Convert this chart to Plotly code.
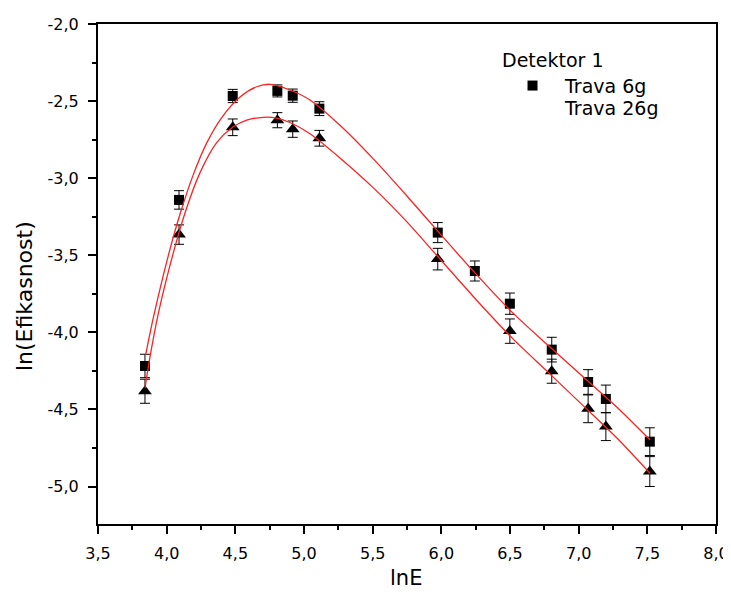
import plotly.graph_objects as go

# ---- data ----
lnE_6g = [3.842, 4.090, 4.481, 4.806, 4.918, 5.112, 5.974, 6.244, 6.499, 6.804, 7.069, 7.198, 7.518]
eff_6g = [-4.218, -3.141, -2.467, -2.434, -2.465, -2.549, -3.353, -3.602, -3.814, -4.112, -4.322, -4.432, -4.709]
err_6g = [0.076, 0.060, 0.043, 0.039, 0.043, 0.045, 0.065, 0.065, 0.069, 0.080, 0.080, 0.090, 0.090]

lnE_26g = [3.842, 4.090, 4.481, 4.806, 4.918, 5.112, 5.974, 6.499, 6.804, 7.069, 7.198, 7.518]
eff_26g = [-4.382, -3.366, -2.670, -2.624, -2.682, -2.741, -3.525, -3.992, -4.252, -4.496, -4.611, -4.903]
err_26g = [0.078, 0.063, 0.054, 0.049, 0.053, 0.051, 0.070, 0.079, 0.078, 0.090, 0.091, 0.097]

# fitted curves
fit_x_6g = [3.847, 3.903, 4.012, 4.097, 4.194, 4.292, 4.401, 4.534, 4.656, 4.752, 4.898, 5.044,
            5.262, 5.505, 5.748, 5.990, 6.233, 6.524, 6.767, 7.034, 7.277, 7.519]
fit_y_6g = [-4.146, -3.905, -3.502, -3.234, -2.977, -2.771, -2.607, -2.474, -2.407, -2.391, -2.428, -2.493,
            -2.657, -2.875, -3.114, -3.360, -3.603, -3.877, -4.076, -4.290, -4.484, -4.697]

fit_x_26g = [3.842, 3.886, 3.939, 4.048, 4.146, 4.243, 4.364, 4.485, 4.583, 4.704, 4.801, 4.898, 5.044,
             5.262, 5.505, 5.748, 5.966, 6.282, 6.524, 6.767, 7.034, 7.277, 7.519]
fit_y_26g = [-4.360, -4.122, -3.878, -3.486, -3.192, -2.964, -2.770, -2.667, -2.623, -2.605, -2.610, -2.639, -2.712,
             -2.869, -3.063, -3.282, -3.500, -3.816, -4.044, -4.250, -4.477, -4.684, -4.914]

x_tickvals = [3.5, 4.0, 4.5, 5.0, 5.5, 6.0, 6.5, 7.0, 7.5, 8.0]
x_ticktext = ["3,5", "4,0", "4,5", "5,0", "5,5", "6,0", "6,5", "7,0", "7,5", "8,0"]
y_tickvals = [-2.0, -2.5, -3.0, -3.5, -4.0, -4.5, -5.0]
y_ticktext = ["-2,0", "-2,5", "-3,0", "-3,5", "-4,0", "-4,5", "-5,0"]

legend_title = "Detektor 1"
name_6g = "Trava 6g"
name_26g = "Trava 26g"
x_title = "lnE"
y_title = "ln(Efikasnost)"

FONT = "'DejaVu Sans', Arial, sans-serif"

fig = go.Figure()

fig.add_trace(go.Scatter(
    x=lnE_6g, y=eff_6g, mode="markers", showlegend=False,
    marker=dict(symbol="square", size=10, color="black"),
    error_y=dict(type="data", array=err_6g, color="black", thickness=1, width=5)))
fig.add_trace(go.Scatter(
    x=lnE_26g, y=eff_26g, mode="markers", showlegend=False,
    marker=dict(symbol="triangle-up", size=12, color="black"),
    error_y=dict(type="data", array=err_26g, color="black", thickness=1, width=5)))

fig.add_trace(go.Scatter(
    x=fit_x_6g, y=fit_y_6g, mode="lines", showlegend=False,
    line=dict(color="#ff2020", width=1.3, shape="spline", smoothing=0.8)))
fig.add_trace(go.Scatter(
    x=fit_x_26g, y=fit_y_26g, mode="lines", showlegend=False,
    line=dict(color="#ff2020", width=1.3, shape="spline", smoothing=0.8)))

# legend-only entries
fig.add_trace(go.Scatter(x=[None], y=[None], mode="markers", name=name_6g, legend="legend",
                         marker=dict(symbol="square", size=10, color="black")))
fig.add_trace(go.Scatter(x=[None], y=[None], mode="markers", name=name_26g, legend="legend2",
                         marker=dict(symbol="triangle-up", size=12, color="rgba(0,0,0,0)")))

axis_common = dict(
    showline=True, linecolor="black", linewidth=2, mirror=True,
    ticks="outside", ticklen=8, tickwidth=1.5, tickcolor="black",
    showgrid=False, zeroline=False, automargin=False,
    tickfont=dict(family=FONT, size=16, color="black"),
)

fig.update_xaxes(range=[3.5, 8.0], tickvals=x_tickvals, ticktext=x_ticktext,
                 minor=dict(ticks="outside", ticklen=4, tickwidth=1.5, tickcolor="black",
                            tick0=3.75, dtick=0.5, showgrid=False),
                 ticklabelstandoff=6, **axis_common)
fig.update_yaxes(range=[-5.243, -2.0], tickvals=y_tickvals, ticktext=y_ticktext,
                 minor=dict(ticks="outside", ticklen=4, tickwidth=1.5, tickcolor="black",
                            tick0=-2.25, dtick=0.5, showgrid=False),
                 ticklabelstandoff=6, **axis_common)

fig.add_annotation(text=y_title, xref="paper", yref="paper", x=-0.1197, y=0.456,
                   xanchor="center", yanchor="middle", textangle=-90, showarrow=False,
                   font=dict(family=FONT, size=22, color="black"))
fig.add_annotation(text=x_title, xref="paper", yref="paper", x=0.4985, y=-0.108,
                   xanchor="center", yanchor="middle", showarrow=False,
                   font=dict(family=FONT, size=21, color="black"))

leg_font = dict(family=FONT, size=19, color="black")
# the page body adds an 8px offset, so the figure is sized 8px smaller on each axis
fig.update_layout(
    width=723, height=589,
    margin=dict(l=90, r=15, t=16, b=73, autoexpand=False),
    paper_bgcolor="white", plot_bgcolor="white",
    font=dict(family=FONT, color="black"),
    legend=dict(title=dict(text=legend_title, font=leg_font),
                font=leg_font, x=0.6505, y=0.964, xanchor="left", yanchor="top",
                bgcolor="rgba(0,0,0,0)", borderwidth=0, itemwidth=55),
    legend2=dict(font=leg_font, x=0.6505, y=0.87, xanchor="left", yanchor="top",
                 bgcolor="rgba(0,0,0,0)", borderwidth=0, itemwidth=55),
)

fig.write_html("out.html")
